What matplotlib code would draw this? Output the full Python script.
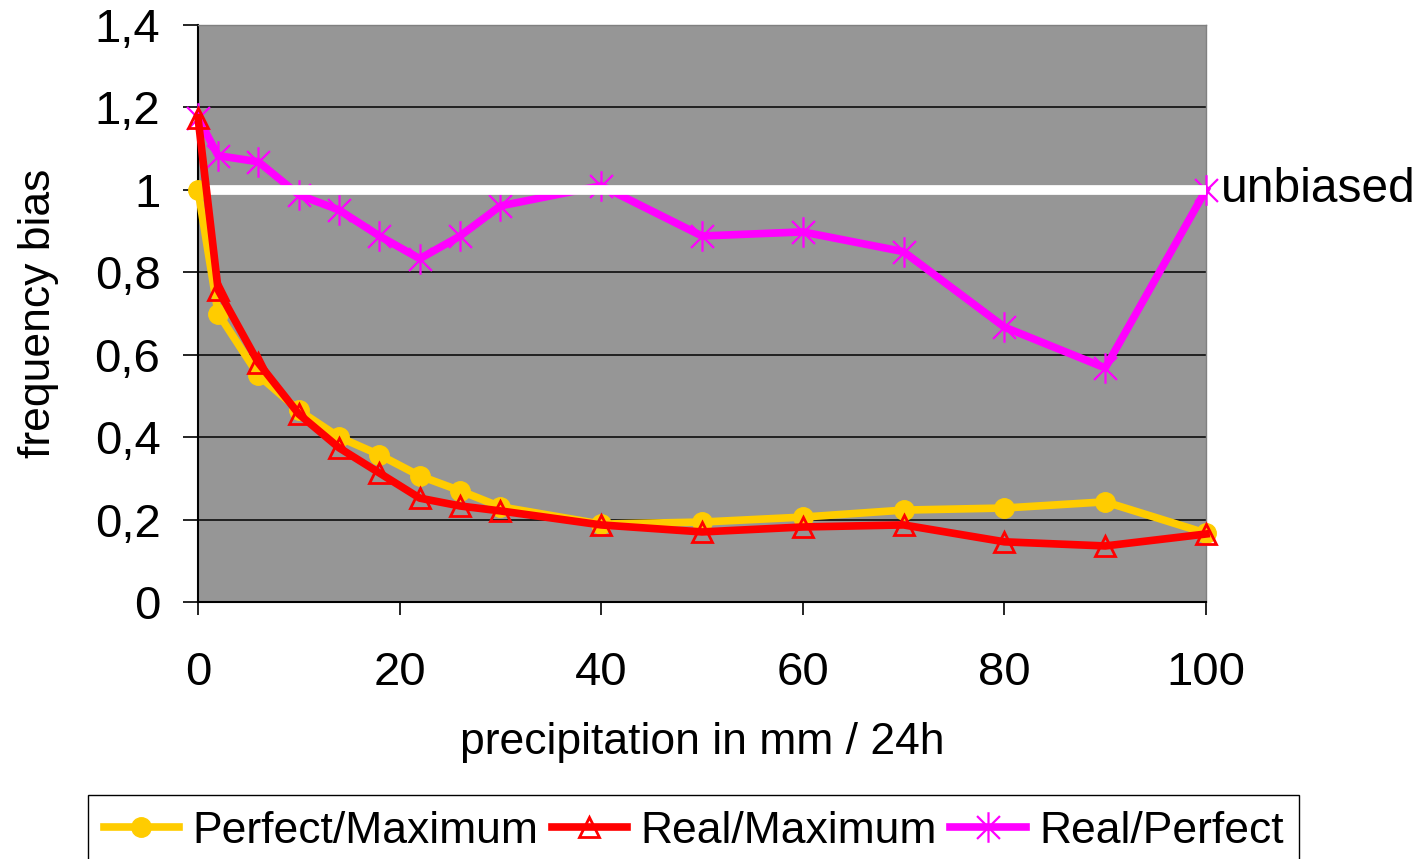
import matplotlib
matplotlib.use("Agg")
import matplotlib.pyplot as plt
from matplotlib.path import Path
from matplotlib.ticker import FuncFormatter

plt.rcParams['font.family'] = ['Liberation Sans', 'DejaVu Sans']

# precipitation thresholds (mm / 24h)
precip = [0, 2, 6, 10, 14, 18, 22, 26, 30, 40, 50, 60, 70, 80, 90, 100]

perfect_max = [1.0, 0.70, 0.55, 0.465, 0.40, 0.357, 0.306, 0.27, 0.231, 0.189,
               0.194, 0.206, 0.223, 0.228, 0.243, 0.167]
real_max = [1.175, 0.757, 0.58, 0.456, 0.374, 0.313, 0.252, 0.233, 0.221, 0.187,
            0.17, 0.182, 0.187, 0.146, 0.136, 0.165]
real_perfect = [1.175, 1.083, 1.068, 0.988, 0.951, 0.888, 0.833, 0.888, 0.961, 1.01,
                0.888, 0.898, 0.85, 0.667, 0.568, 1.0]

unbiased_x = [0, 100]
unbiased_y = [1.0, 1.0]

y_ticks = [0, 0.2, 0.4, 0.6, 0.8, 1.0, 1.2, 1.4]
x_ticks = [0, 20, 40, 60, 80, 100]

# excel style star marker: vertical bar plus a cross
star = Path([(0, -1), (0, 1), (-0.75, -0.75), (0.75, 0.75), (-0.75, 0.75), (0.75, -0.75)],
            [Path.MOVETO, Path.LINETO] * 3)

fig = plt.figure(figsize=(14.22, 8.59), dpi=100)
ax = fig.add_axes([198 / 1422, 1 - 602 / 859, 1008 / 1422, 577 / 859])
ax.set_facecolor('#969696')

ax.plot(precip, real_perfect, color='#FF00FF', lw=5.5, marker=star, ms=22,
        mew=1.6, mec='#FF00FF', zorder=3, clip_on=False, label='Real/Perfect')
ax.plot(unbiased_x, unbiased_y, color='white', lw=7, zorder=4, solid_capstyle='butt')
ax.plot(precip, perfect_max, color='#FFCC00', lw=5.5, marker='o', ms=14,
        mec='#FFCC00', mfc='#FFCC00', zorder=5, clip_on=False, label='Perfect/Maximum')
ax.plot(precip, real_max, color='#FF0000', lw=5.5, marker='^', ms=15, mfc='none',
        mec='#FF0000', mew=2, zorder=6, clip_on=False, label='Real/Maximum')

ax.annotate('unbiased', xy=(100, 1.0), xytext=(11, 0), textcoords='offset points',
            va='center', ha='left', fontsize=34.5, annotation_clip=False)

ax.set_xlim(0, 100)
ax.set_ylim(0, 1.4)
ax.set_xticks(x_ticks)
ax.set_yticks(y_ticks)
ax.yaxis.set_major_formatter(FuncFormatter(lambda v, p: ('%g' % round(v, 1)).replace('.', ',')))
ax.tick_params(axis='y', direction='out', length=11, width=1.2, pad=16, labelsize=34)
ax.tick_params(axis='x', direction='out', length=9, width=1.2, pad=26, labelsize=34)
ax.grid(axis='y', color='black', lw=1.1, zorder=1)
ax.set_axisbelow(True)

for side in ('left', 'bottom'):
    ax.spines[side].set_color('black')
    ax.spines[side].set_linewidth(1.5)
for side in ('top', 'right'):
    ax.spines[side].set_color('#808080')
    ax.spines[side].set_linewidth(1.0)

ax.set_xlabel('precipitation in mm / 24h', fontsize=32, labelpad=20)
ax.set_ylabel('frequency bias', fontsize=32, labelpad=26)

handles, labels = ax.get_legend_handles_labels()
order = [1, 2, 0]
leg = fig.legend([handles[i] for i in order], [labels[i] for i in order],
                 loc='upper left', bbox_to_anchor=(88 / 1422, 1 - 795 / 859),
                 bbox_transform=fig.transFigure, borderaxespad=0, fontsize=32,
                 ncol=3, handlelength=1.7, handletextpad=0.3, columnspacing=0.3,
                 borderpad=0.35, fancybox=False, framealpha=1, edgecolor='black')
leg.get_frame().set_linewidth(1.0)

fig.savefig('out.png', dpi=100)
